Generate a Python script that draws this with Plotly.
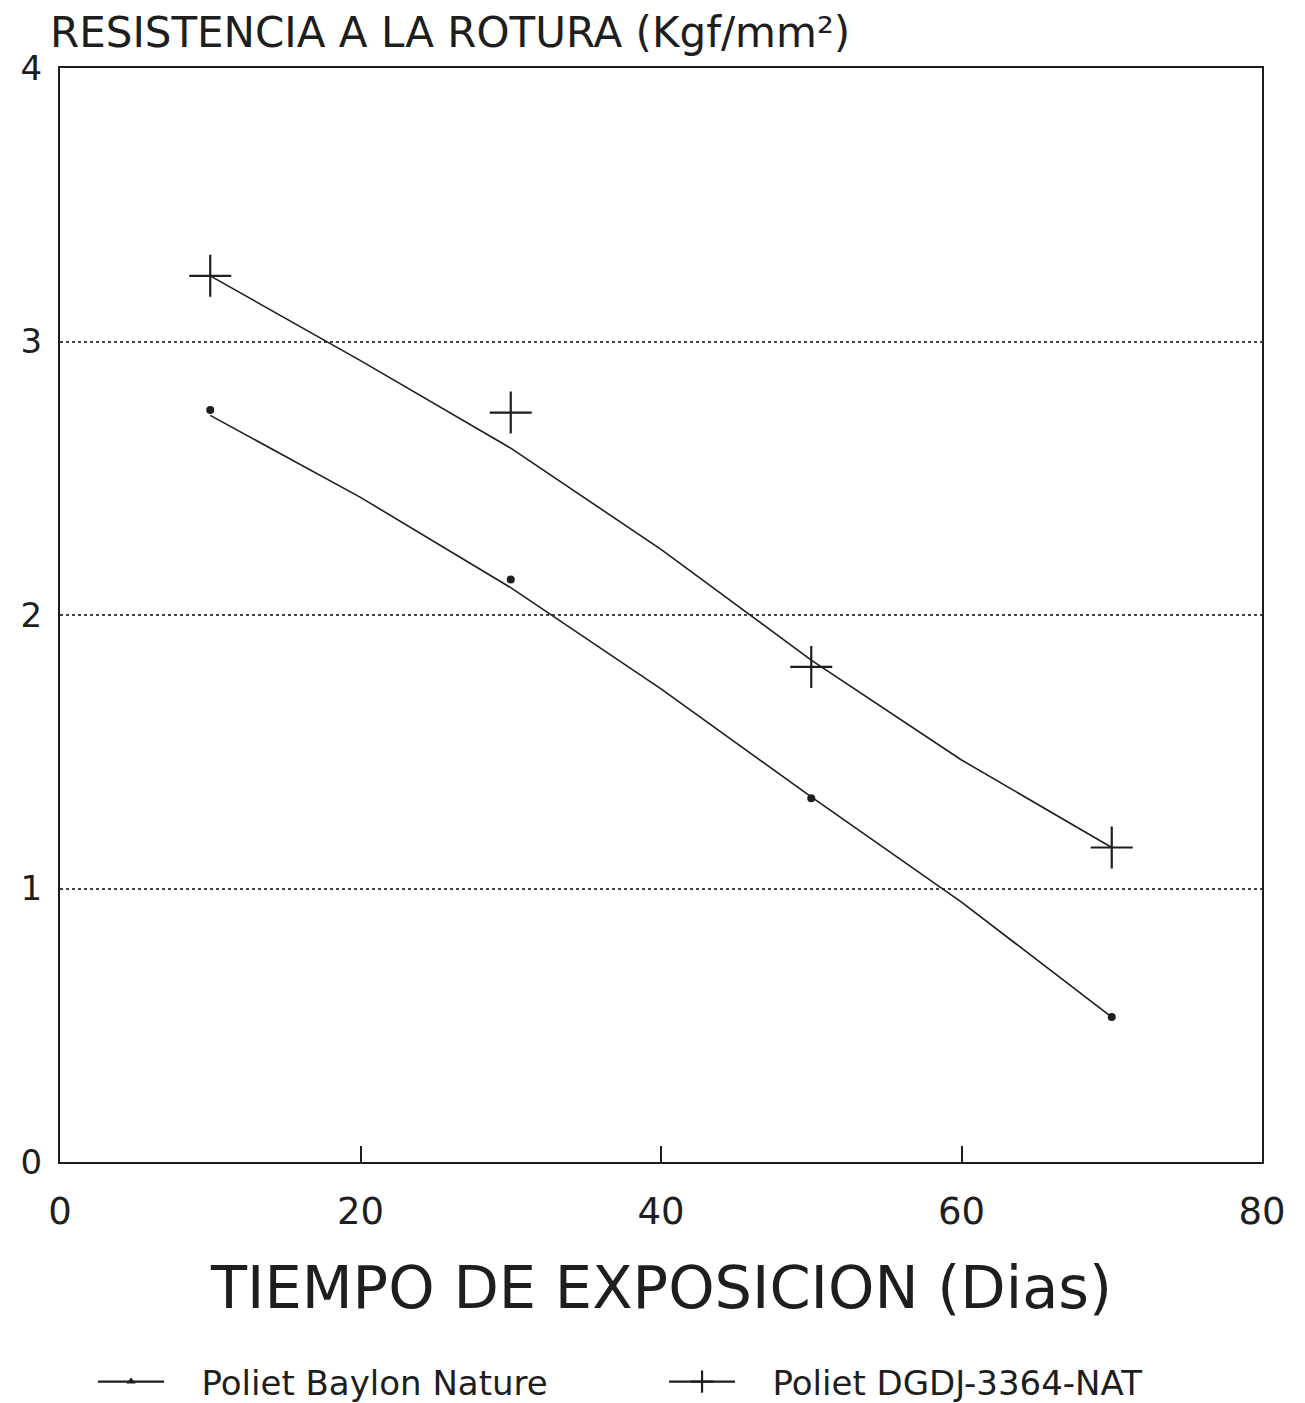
import plotly.graph_objects as go

# Measured points
days = [10, 30, 50, 70]
baylon_pts = [2.75, 2.13, 1.33, 0.53]
dgdj_pts = [3.24, 2.74, 1.81, 1.15]

# Fitted curves
fit_days = [10, 20, 30, 40, 50, 60, 70]
baylon_fit = [2.73, 2.43, 2.10, 1.73, 1.335, 0.95, 0.53]
dgdj_fit = [3.24, 2.93, 2.61, 2.24, 1.835, 1.47, 1.15]

x_ticks = [0, 20, 40, 60, 80]
x_tick_labels = ["0", "20", "40", "60", "80"]
y_ticks = [0, 1, 2, 3, 4]
y_tick_labels = ["0", "1", "2", "3", "4"]

name_baylon = "Poliet Baylon Nature"
name_dgdj = "Poliet DGDJ-3364-NAT"
title_text = "RESISTENCIA A LA ROTURA (Kgf/mm²)"
x_title = "TIEMPO DE EXPOSICION (Dias)"

INK = "#1e1e1e"
FONT = "DejaVu Sans, Liberation Sans, sans-serif"
GAP = "\u00a0\u00a0\u00a0"

W, H = 1297, 1395  # page body has an 8px margin
L, R, T, B = 52, 43, 60, 241
PH = H - T - B

fig = go.Figure()

fig.add_trace(go.Scatter(x=fit_days, y=baylon_fit, mode="lines",
                         line=dict(color=INK, width=1.6), showlegend=False, hoverinfo="skip"))
fig.add_trace(go.Scatter(x=fit_days, y=dgdj_fit, mode="lines",
                         line=dict(color=INK, width=1.6), showlegend=False, hoverinfo="skip"))
fig.add_trace(go.Scatter(x=days, y=baylon_pts, mode="markers",
                         marker=dict(symbol="circle", size=8, color=INK), showlegend=False))
fig.add_trace(go.Scatter(x=days, y=dgdj_pts, mode="markers",
                         marker=dict(symbol="cross-thin", size=30, color=INK,
                                     line=dict(color=INK, width=2.2)), showlegend=False))

# Legend entries
fig.add_trace(go.Scatter(x=[None], y=[None], mode="lines+markers", name=GAP + name_baylon,
                         line=dict(color=INK, width=2.2),
                         marker=dict(symbol="triangle-up", size=8, color=INK)))
fig.add_trace(go.Scatter(x=[None], y=[None], mode="lines+markers", name=GAP + name_dgdj,
                         line=dict(color=INK, width=2.2),
                         marker=dict(symbol="cross-thin", size=22, color=INK,
                                     line=dict(color=INK, width=2.2))))

fig.update_layout(
    width=W, height=H,
    margin=dict(l=L, r=R, t=T, b=B, autoexpand=False),
    paper_bgcolor="white", plot_bgcolor="white",
    font=dict(family=FONT, color=INK, size=34),
    title=dict(text=title_text, xref="container", yref="container",
               x=42 / W, y=1 - 24 / H, xanchor="left", yanchor="middle",
               font=dict(size=42, color=INK, family=FONT)),
    xaxis=dict(range=[0, 80], tickvals=x_ticks, ticktext=x_tick_labels,
               showline=True, linecolor=INK, linewidth=2, mirror=True,
               ticks="inside", ticklen=16, tickwidth=2, tickcolor=INK,
               showgrid=False, zeroline=False, automargin=False,
               tickfont=dict(size=37, color=INK), ticklabelstandoff=16),
    yaxis=dict(range=[0, 4], tickvals=y_ticks, ticktext=y_tick_labels,
               showline=True, linecolor=INK, linewidth=2, mirror=True,
               ticks="", showgrid=True, gridcolor="#444", griddash="dot", gridwidth=1.5,
               zeroline=False, automargin=False,
               tickfont=dict(size=34, color=INK), ticklabelstandoff=9),
    legend=dict(orientation="h", x=0.0275, y=-(1374 - (H - B)) / PH,
                xanchor="left", yanchor="middle",
                font=dict(size=34, color=INK, family=FONT), entrywidth=490,
                itemwidth=66, bgcolor="rgba(0,0,0,0)"),
    showlegend=True,
    annotations=[dict(text=x_title, xref="paper", yref="paper", x=0.5,
                      y=-(1280 - (H - B)) / PH, xanchor="center", yanchor="middle",
                      showarrow=False, font=dict(size=59, color=INK, family=FONT))],
)

fig.write_html("out.html")
